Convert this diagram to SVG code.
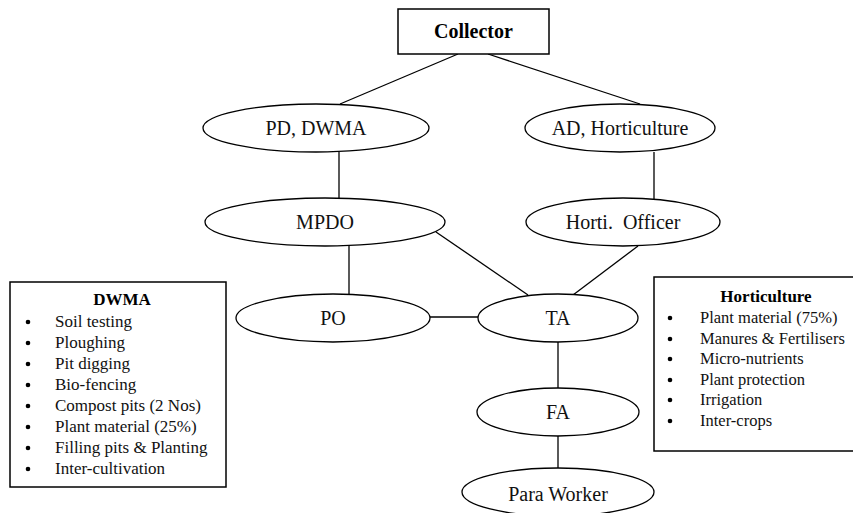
<svg xmlns="http://www.w3.org/2000/svg" width="853" height="513" viewBox="0 0 853 513" font-family="'Liberation Serif', 'DejaVu Serif', serif">
  <style>
    .bg { fill: #ffffff; }
    .node { fill: #ffffff; stroke: #000000; stroke-width: 1.3; }
    .box { fill: #ffffff; stroke: #000000; stroke-width: 1.5; }
    .edge { stroke: #000000; stroke-width: 1.3; fill: none; }
    text { font-family: 'Liberation Serif', 'DejaVu Serif', serif; }
    .lbl { font-size: 20px; fill: #111111; text-anchor: middle; }
    .title { font-size: 20px; font-weight: bold; fill: #000000; text-anchor: middle; }
    .head { font-size: 17px; font-weight: bold; fill: #000000; text-anchor: middle; }
    .item { font-size: 17px; fill: #111111; }
    .item2 { font-size: 16.5px; fill: #111111; }
    .bul { fill: #000000; }
  </style>

  <rect class="bg" x="0" y="0" width="853" height="513"/>

  <!-- connectors -->
  <g id="connectors">
    <line class="edge" x1="458" y1="54" x2="340" y2="104"/>
    <line class="edge" x1="488" y1="54" x2="640" y2="104"/>
    <line class="edge" x1="339" y1="152" x2="339" y2="199"/>
    <line class="edge" x1="654" y1="152" x2="654" y2="199"/>
    <line class="edge" x1="349" y1="246" x2="349" y2="294"/>
    <line class="edge" x1="436" y1="232" x2="528" y2="295"/>
    <line class="edge" x1="638" y1="246" x2="573" y2="295"/>
    <line class="edge" x1="430" y1="317" x2="478" y2="317"/>
    <line class="edge" x1="558" y1="342" x2="558" y2="388"/>
    <line class="edge" x1="558" y1="436" x2="558" y2="468"/>
  </g>

  <!-- top of the hierarchy -->
  <g id="collector">
    <rect class="box" x="398" y="9" width="151" height="45"/>
    <text class="title" x="473.5" y="38">Collector</text>
  </g>

  <g id="pd-dwma">
    <ellipse class="node" cx="316" cy="128" rx="113" ry="24"/>
    <text class="lbl" x="316" y="135">PD, DWMA</text>
  </g>

  <g id="ad-horticulture">
    <ellipse class="node" cx="620" cy="128" rx="95" ry="24"/>
    <text class="lbl" x="620" y="135">AD, Horticulture</text>
  </g>

  <g id="mpdo">
    <ellipse class="node" cx="325" cy="222" rx="120" ry="24"/>
    <text class="lbl" x="325" y="229">MPDO</text>
  </g>

  <g id="horti-officer">
    <ellipse class="node" cx="623" cy="222" rx="97" ry="24"/>
    <text class="lbl" x="623" y="229" xml:space="preserve">Horti.  Officer</text>
  </g>

  <g id="po">
    <ellipse class="node" cx="333" cy="318" rx="97" ry="24"/>
    <text class="lbl" x="333" y="325">PO</text>
  </g>

  <g id="ta">
    <ellipse class="node" cx="558" cy="318" rx="80" ry="24"/>
    <text class="lbl" x="558" y="325">TA</text>
  </g>

  <g id="fa">
    <ellipse class="node" cx="558" cy="412" rx="81" ry="24"/>
    <text class="lbl" x="558" y="419">FA</text>
  </g>

  <g id="para-worker">
    <ellipse class="node" cx="558" cy="492" rx="96" ry="24"/>
    <text class="lbl" x="558" y="501">Para Worker</text>
  </g>

  <!-- task list: DWMA -->
  <g id="dwma-tasks">
    <rect class="box" x="10" y="282" width="216" height="205"/>
    <text class="head" x="122" y="305">DWMA</text>
    <g class="bul">
      <circle cx="28" cy="322" r="2.3"/>
      <circle cx="28" cy="343" r="2.3"/>
      <circle cx="28" cy="364" r="2.3"/>
      <circle cx="28" cy="385" r="2.3"/>
      <circle cx="28" cy="406" r="2.3"/>
      <circle cx="28" cy="427" r="2.3"/>
      <circle cx="28" cy="448" r="2.3"/>
      <circle cx="28" cy="469" r="2.3"/>
    </g>
    <text class="item" x="55" y="327">Soil testing</text>
    <text class="item" x="55" y="348">Ploughing</text>
    <text class="item" x="55" y="369">Pit digging</text>
    <text class="item" x="55" y="390">Bio-fencing</text>
    <text class="item" x="55" y="411">Compost pits (2 Nos)</text>
    <text class="item" x="55" y="432">Plant material (25%)</text>
    <text class="item" x="55" y="453">Filling pits &amp; Planting</text>
    <text class="item" x="55" y="474">Inter-cultivation</text>
  </g>

  <!-- task list: Horticulture -->
  <g id="horticulture-tasks">
    <rect class="box" x="654" y="277" width="210" height="174"/>
    <text class="head" x="766" y="302">Horticulture</text>
    <g class="bul">
      <circle cx="670" cy="318" r="2.3"/>
      <circle cx="670" cy="339" r="2.3"/>
      <circle cx="670" cy="359" r="2.3"/>
      <circle cx="670" cy="380" r="2.3"/>
      <circle cx="670" cy="400" r="2.3"/>
      <circle cx="670" cy="421" r="2.3"/>
    </g>
    <text class="item2" x="700" y="323">Plant material (75%)</text>
    <text class="item2" x="700" y="344">Manures &amp; Fertilisers</text>
    <text class="item2" x="700" y="364">Micro-nutrients</text>
    <text class="item2" x="700" y="385">Plant protection</text>
    <text class="item2" x="700" y="405">Irrigation</text>
    <text class="item2" x="700" y="426">Inter-crops</text>
  </g>
</svg>
